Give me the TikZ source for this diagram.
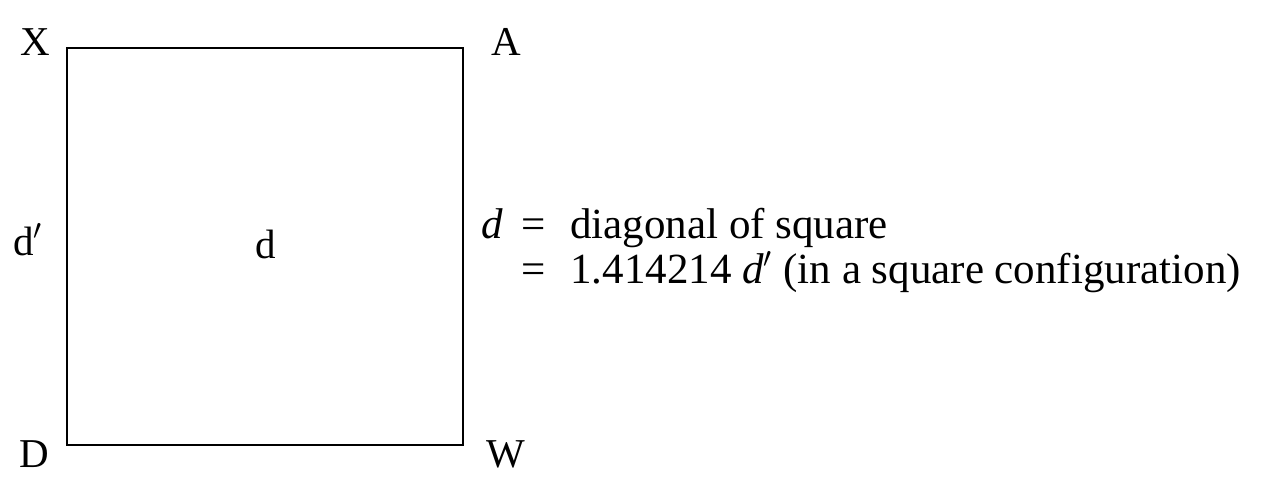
\documentclass[tikz,border=0pt]{standalone}
\usepackage{fontspec}
\setmainfont{Liberation Serif}
\usepackage{tikz}
\usetikzlibrary{positioning}

\tikzset{corner/.style={inner sep=0pt,anchor=base,font=\fontsize{20.5}{24}\selectfont},
         note/.style={inner sep=0pt,anchor=base west,font=\fontsize{21.5}{22.5}\selectfont},
         side/.style={line width=1.3pt}}

\begin{document}
\begin{tikzpicture}[x=0.5pt,y=-0.5pt]
      \useasboundingbox (0,0) rectangle (1277,482);

      % corners of the square
      \coordinate (x) at (67,48);
      \coordinate (a) at (463,48);
      \coordinate (w) at (463,445);
      \coordinate (dd) at (67,445);
      \draw[side] (x) -- (a) -- (w) -- (dd) -- cycle;

      \node[corner] (label x) at (35,55) {X};
      \node[corner] (label a) at (506,55) {A};
      \node[corner] (label d) at (34,467) {D};
      \node[corner] (label w) at (506,467) {W};
      \node[corner] (side d) at (28,255) {d$'$};
      \node[corner] (diag d) at (266,258) {d};

      \node[note] (eq) at (481,238)
        {\begin{tabular}[t]{@{}r@{\hspace{9pt}}c@{\hspace{12.5pt}}l@{}}
           \textit{d} & = & diagonal of square\\
                      & = & 1.414214 \textit{d}$'$ (in a square configuration)
         \end{tabular}};
    \end{tikzpicture}
\end{document}
